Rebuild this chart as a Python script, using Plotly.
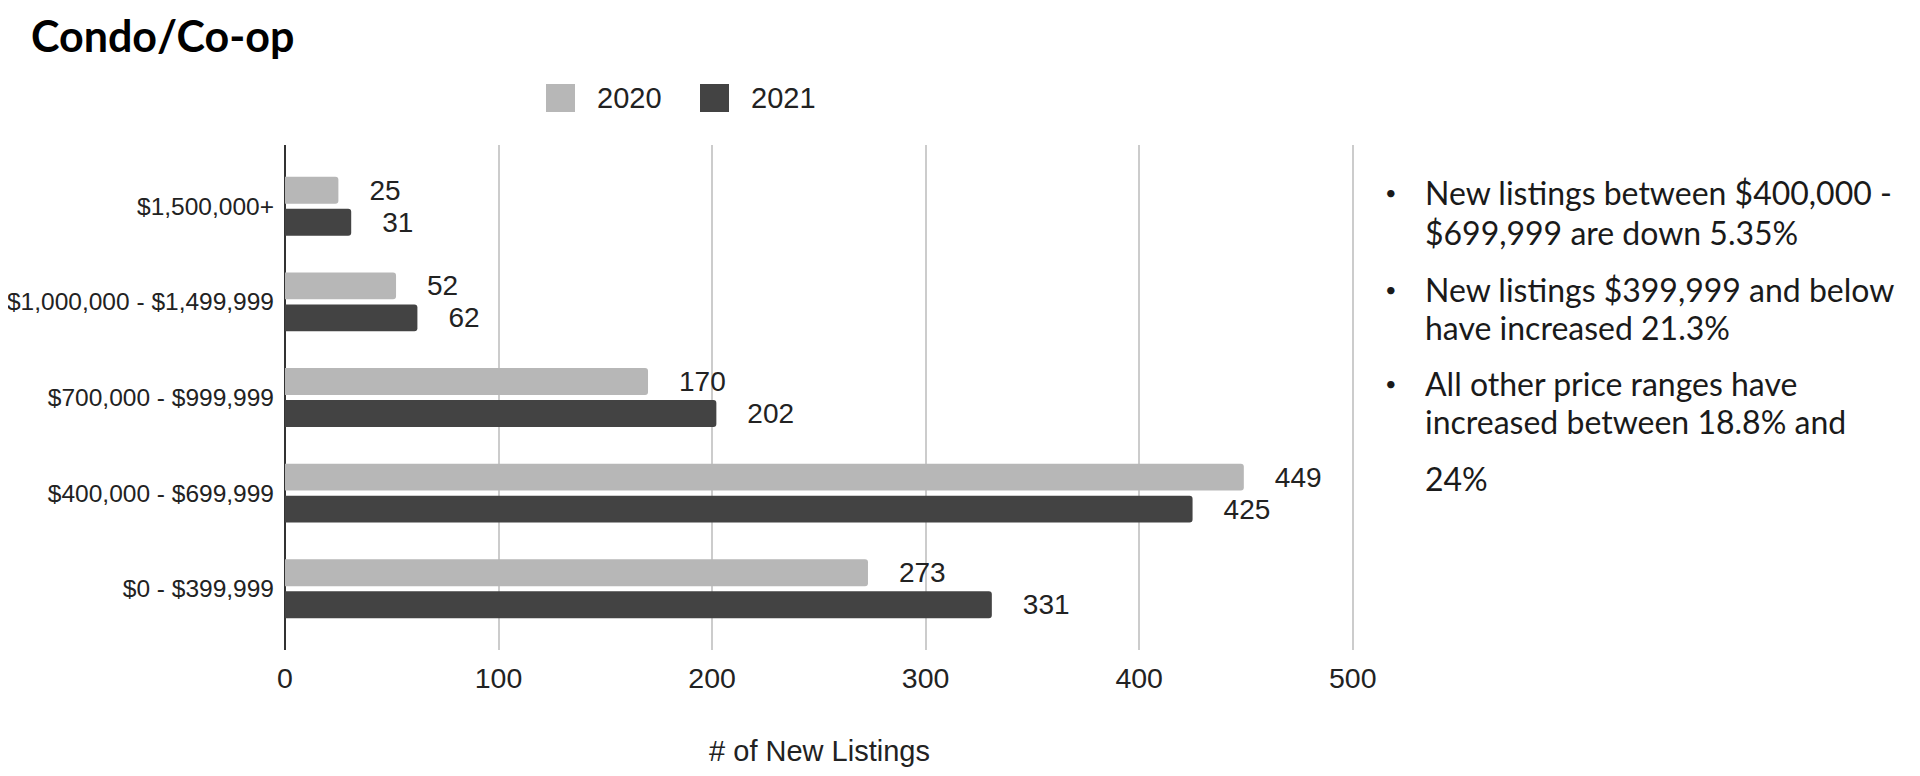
import plotly.graph_objects as go

# ---- data ----
categories = ["$1,500,000+", "$1,000,000 - $1,499,999", "$700,000 - $999,999",
              "$400,000 - $699,999", "$0 - $399,999"]
values_2020 = [25, 52, 170, 449, 273]
values_2021 = [31, 62, 202, 425, 331]
series_names = ["2020", "2021"]
x_ticks = [0, 100, 200, 300, 400, 500]
title_text = "Condo/Co-op"
x_title = "# of New Listings"
bullets = [
    ["New listings between $400,000 -", "$699,999 are down 5.35%"],
    ["New listings $399,999 and below", "have increased 21.3%"],
    ["All other price ranges have", "increased between 18.8% and", "24%"],
]

# ---- layout geometry (pixels) ----
W, H = 1920, 776
L, R, T, B = 277, 1346, 137, 642
LIGHT, DARK = "#b7b7b7", "#434343"


def px(x):
    return (x - L) / (R - L)


def py(y):
    return (B - y) / (B - T)


fig = go.Figure()
for name, vals, col in [(series_names[0], values_2020, LIGHT), (series_names[1], values_2021, DARK)]:
    fig.add_trace(go.Bar(
        name=name, y=categories, x=vals, orientation="h",
        marker=dict(color=col, cornerradius=3, line=dict(width=0)),
        text=vals, texttemplate="\u2002\u2002%{x}", textposition="outside",
        constraintext="none",
        textfont=dict(family="Liberation Sans, Arial", size=28, color="#222222"),
        cliponaxis=False, showlegend=False,
    ))

fig.update_layout(
    width=W, height=H,
    margin=dict(l=L, r=W - R, t=T, b=H - B, pad=0, autoexpand=False),
    paper_bgcolor="white", plot_bgcolor="white",
    barmode="group", bargap=0.33, bargroupgap=0.16,
    title=dict(text="<b>" + title_text + "</b>", x=23 / W, xanchor="left",
               y=1 - 29 / H, yanchor="middle",
               font=dict(family="Lato", size=43, color="#000000")),
    xaxis=dict(range=[0, 500.6], tickvals=x_ticks, showgrid=True, gridcolor="#cccccc",
               gridwidth=1.5, zeroline=True, zerolinecolor="#333333", zerolinewidth=2,
               showline=False, ticks="", ticklabelstandoff=8, automargin=False,
               tickfont=dict(family="Liberation Sans, Arial", size=28.5, color="#222222"),
               title=dict(text=x_title, standoff=48,
                          font=dict(family="Liberation Sans, Arial", size=29, color="#222222"))),
    yaxis=dict(categoryorder="array", categoryarray=categories, range=[4.64, -0.64],
               showgrid=False, zeroline=False, showline=False, ticks="",
               ticklabelstandoff=10, automargin=False,
               tickfont=dict(family="Liberation Sans, Arial", size=24.5, color="#222222")),
)

# custom legend
legend_items = [(series_names[0], LIGHT, 538, 587), (series_names[1], DARK, 692, 741)]
for name, col, bx, tx in legend_items:
    fig.add_shape(type="rect", xref="paper", yref="paper",
                  x0=px(bx), x1=px(bx + 29), y0=py(104), y1=py(76),
                  fillcolor=col, line=dict(width=0), layer="above")
    fig.add_annotation(text=name, xref="paper", yref="paper", x=px(tx), y=py(90),
                       xanchor="left", yanchor="middle", showarrow=False,
                       font=dict(family="Liberation Sans, Arial", size=29, color="#222222"))

# bullet text
line_y = [[184, 224], [281, 319], [375, 413, 471]]
for lines, ys in zip(bullets, line_y):
    fig.add_annotation(text="•", xref="paper", yref="paper", x=px(1383), y=py(ys[0]),
                       xanchor="center", yanchor="middle", showarrow=False,
                       font=dict(family="Lato", size=20, color="#1a1a1a"))
    for t, yy in zip(lines, ys):
        fig.add_annotation(text=t, xref="paper", yref="paper", x=px(1415), y=py(yy),
                           xanchor="left", yanchor="middle", showarrow=False,
                           font=dict(family="Lato", size=32, color="#1a1a1a"))

fig.write_html("out.html")
